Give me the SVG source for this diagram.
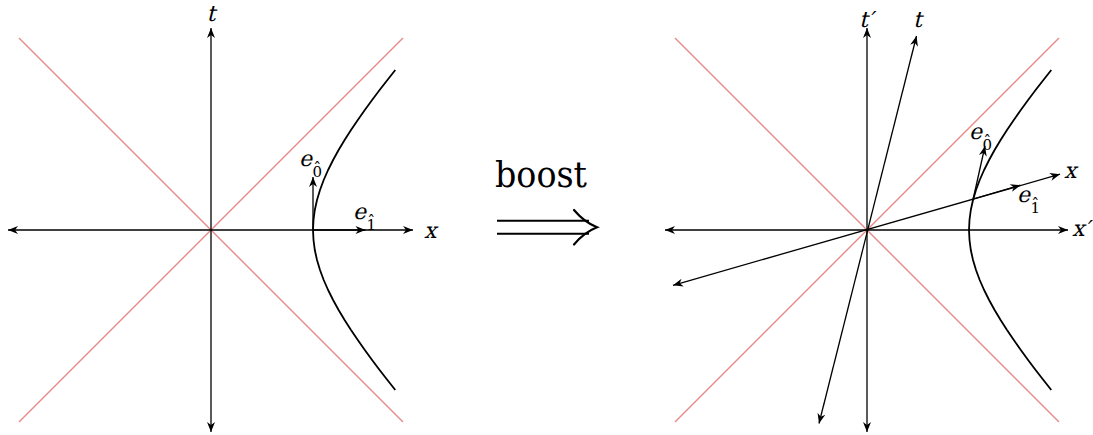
<svg xmlns="http://www.w3.org/2000/svg" width="1093" height="435" viewBox="0 0 1093 435">
<style>
.lc{stroke:#e58b89;stroke-width:1.4;fill:none}
.ax{stroke:#000;stroke-width:1.3;fill:none;marker-end:url(#ah)}
.ax2{stroke:#000;stroke-width:1.3;fill:none;marker-start:url(#ah);marker-end:url(#ah)}
.hyp{stroke:#000;stroke-width:1.8;fill:none;stroke-linejoin:round}
text{font-family:'DejaVu Serif','Liberation Serif',serif;fill:#000}
.lb{font-size:22px}
.up{font-size:15px}
.hat{font-size:16px;text-anchor:middle}
</style>
<defs>
<marker id="ah" viewBox="-11 -5 12 10" refX="0" refY="0" markerWidth="12" markerHeight="10" markerUnits="userSpaceOnUse" orient="auto-start-reverse">
<path d="M0,0 L-10,-4 L-7,0 L-10,4 Z" fill="#000"/>
</marker>
<polyline id="hy" points="395.3,70 387.4,80 379.6,90 372.1,100 364.8,110 357.8,120 351.0,130 344.6,140 338.6,150 333.1,160 328.1,170 323.7,180 320.0,190 317.0,200 314.8,210 313.5,220 313,230 313.5,240 314.8,250 317.0,260 320.0,270 323.7,280 328.1,290 333.1,300 338.6,310 344.6,320 351.0,330 357.8,340 364.8,350 372.1,360 379.6,370 387.4,380 395.3,390"/>
</defs>

<g id="left-diagram">
<g id="left-lightcone">
<line class="lc" x1="19" y1="38" x2="403" y2="422"/>
<line class="lc" x1="19" y1="422" x2="403" y2="38"/>
</g>
<g id="left-axes">
<line class="ax2" x1="8" y1="230" x2="413" y2="230"/>
<line class="ax2" x1="211" y1="432" x2="211" y2="28"/>
</g>
<g id="left-hyperbola"><use href="#hy" class="hyp"/></g>
<g id="left-vectors">
<line class="ax" x1="313" y1="230" x2="313" y2="177"/>
<line class="ax" x1="313" y1="230" x2="365.5" y2="230"/>
</g>
<g id="left-labels">
<text class="lb" transform="translate(211,21) skewX(-14)" text-anchor="middle">t</text>
<text class="lb" transform="translate(424,238) skewX(-14)">x</text>
<text class="lb" transform="translate(299,166) skewX(-14)">e</text>
<text class="up" x="312.5" y="177">0</text>
<text class="hat" x="317.3" y="174">ˆ</text>
<text class="lb" transform="translate(353,219) skewX(-14)">e</text>
<text class="up" x="366.5" y="230">1</text>
<text class="hat" x="371.3" y="227">ˆ</text>
</g>
</g>

<g id="boost">
<text x="495" y="187" font-size="35" textLength="92" lengthAdjust="spacingAndGlyphs">boost</text>
<path d="M497,220.7 H589 M497,233.8 H589" stroke="#000" stroke-width="2" fill="none"/>
<path d="M574,210 Q584,222 597,227.3 Q584,232.5 574,244.5" stroke="#000" stroke-width="2.2" fill="none" stroke-linecap="round"/>
</g>

<g id="right-diagram">
<g id="right-lightcone">
<line class="lc" x1="675" y1="38" x2="1059" y2="422"/>
<line class="lc" x1="675" y1="422" x2="1059" y2="38"/>
</g>
<g id="right-axes">
<line class="ax2" x1="665" y1="230" x2="1068" y2="230"/>
<line class="ax2" x1="867" y1="432" x2="867" y2="28"/>
<line class="ax2" x1="673" y1="285.3" x2="1060" y2="174.2"/>
<line class="ax2" x1="819" y1="423.5" x2="916.5" y2="36"/>
</g>
<g id="right-hyperbola"><use href="#hy" class="hyp" transform="translate(656,0)"/></g>
<g id="right-vectors">
<line class="ax" x1="973.2" y1="199" x2="985" y2="146"/>
<line class="ax" x1="973.2" y1="199" x2="1020.5" y2="185.2"/>
</g>
<g id="right-labels">
<text class="lb" transform="translate(866,27) skewX(-14)" text-anchor="middle">t′</text>
<text class="lb" transform="translate(913,27) skewX(-14)">t</text>
<text class="lb" transform="translate(1064,178) skewX(-14)">x</text>
<text class="lb" transform="translate(1072,236) skewX(-14)">x′</text>
<text class="lb" transform="translate(969,139) skewX(-14)">e</text>
<text class="up" x="982.5" y="150">0</text>
<text class="hat" x="987.3" y="147">ˆ</text>
<text class="lb" transform="translate(1017,202) skewX(-14)">e</text>
<text class="up" x="1030.5" y="213">1</text>
<text class="hat" x="1035.3" y="210">ˆ</text>
</g>
</g>
</svg>
